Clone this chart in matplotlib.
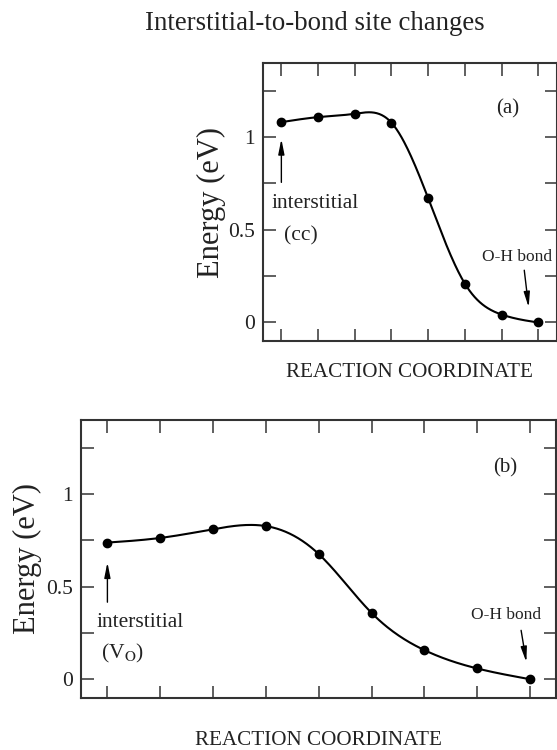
import matplotlib
matplotlib.use("Agg")
import matplotlib.pyplot as plt
import numpy as np

plt.rcParams["font.family"] = ["Liberation Serif", "DejaVu Serif"]
plt.rcParams["mathtext.fontset"] = "stix"

# energies along the reaction path (eV)
energy_a = [1.081, 1.108, 1.126, 1.078, 0.671, 0.210, 0.043, 0.0]
energy_b = [0.738, 0.763, 0.810, 0.827, 0.676, 0.358, 0.157, 0.058, 0.0]

title = "Interstitial-to-bond site changes"
ylabel = "Energy (eV)"
xlabel = "REACTION COORDINATE"
ytick_vals = [0, 0.25, 0.5, 0.75, 1.0, 1.25]
ytick_labels = ["0", "", "0.5", "", "1", ""]

INK = "#222222"


def spline(x, y, n=300):
    """natural cubic spline through the points, for the smooth guide line"""
    x = np.asarray(x, float)
    y = np.asarray(y, float)
    m = len(x)
    h = np.diff(x)
    A = np.zeros((m, m))
    r = np.zeros(m)
    A[0, 0] = A[-1, -1] = 1
    for i in range(1, m - 1):
        A[i, i - 1] = h[i - 1]
        A[i, i] = 2 * (h[i - 1] + h[i])
        A[i, i + 1] = h[i]
        r[i] = 6 * ((y[i + 1] - y[i]) / h[i] - (y[i] - y[i - 1]) / h[i - 1])
    M = np.linalg.solve(A, r)
    xs = np.linspace(x[0], x[-1], n)
    k = np.clip(np.searchsorted(x, xs) - 1, 0, m - 2)
    t = xs - x[k]
    hk = h[k]
    b = (y[k + 1] - y[k]) / hk - hk * (2 * M[k] + M[k + 1]) / 6
    ys = y[k] + b * t + M[k] / 2 * t**2 + (M[k + 1] - M[k]) / (6 * hk) * t**3
    return xs, ys


def draw_panel(ax, energy, xpad, ypad):
    x = np.arange(len(energy))
    xs, ys = spline(x, energy)
    ax.plot(xs, ys, color="black", lw=1.5)
    ax.plot(x, energy, "o", color="black", ms=6)
    ax.set_xlim(-0.5, len(energy) - 0.5)
    ax.set_ylim(-0.1, 1.4)
    ax.set_xticks(x)
    ax.set_xticklabels([])
    ax.set_yticks(ytick_vals)
    ax.set_yticklabels(ytick_labels)
    ax.tick_params(direction="in", length=9, width=1.2, color="#444444",
                   top=True, right=True, labelsize=15.5, labelcolor=INK, pad=6)
    for s in ax.spines.values():
        s.set_linewidth(1.5)
        s.set_color("#333333")
    ax.set_ylabel(ylabel, fontsize=22, color=INK, labelpad=ypad)
    ax.set_xlabel(xlabel, fontsize=15.2, color=INK, labelpad=xpad)


arrow = dict(arrowstyle="-|>,head_length=0.9,head_width=0.18", lw=1.0,
             color="black", shrinkA=0, shrinkB=0)

fig = plt.figure(figsize=(5.57, 7.5), dpi=100)
fig.text(0.565, 0.969, title, ha="center", va="center", fontsize=19.3, color=INK)

ax_a = fig.add_axes([0.4722, 0.5453, 0.527, 0.3707])
draw_panel(ax_a, energy_a, 10, 1.5)
ax_a.text(6.16, 1.155, "(a)", ha="center", va="center", fontsize=15, color=INK)
ax_a.text(0.93, 0.643, "interstitial", ha="center", va="center", fontsize=15.5, color=INK)
ax_a.text(0.54, 0.47, "(cc)", ha="center", va="center", fontsize=15.5, color=INK)
ax_a.annotate("", xy=(0, 0.99), xytext=(0, 0.756), arrowprops=arrow)
ax_a.text(6.43, 0.352, "O-H bond", ha="center", va="center", fontsize=12.5, color=INK)
ax_a.annotate("", xy=(6.74, 0.082), xytext=(6.62, 0.282), arrowprops=arrow)

ax_b = fig.add_axes([0.1454, 0.0697, 0.8537, 0.3703])
draw_panel(ax_b, energy_b, 18, 3)
ax_b.text(7.53, 1.139, "(b)", ha="center", va="center", fontsize=15, color=INK)
ax_b.text(0.61, 0.308, "interstitial", ha="center", va="center", fontsize=15.5, color=INK)
ax_b.text(0.29, 0.14, r"(V$_{\rm O}$)", ha="center", va="center", fontsize=15.5, color=INK)
ax_b.annotate("", xy=(0, 0.631), xytext=(0, 0.416), arrowprops=arrow)
ax_b.text(7.55, 0.345, "O-H bond", ha="center", va="center", fontsize=12.5, color=INK)
ax_b.annotate("", xy=(7.93, 0.092), xytext=(7.83, 0.264), arrowprops=arrow)

fig.savefig("out.png", dpi=100)
